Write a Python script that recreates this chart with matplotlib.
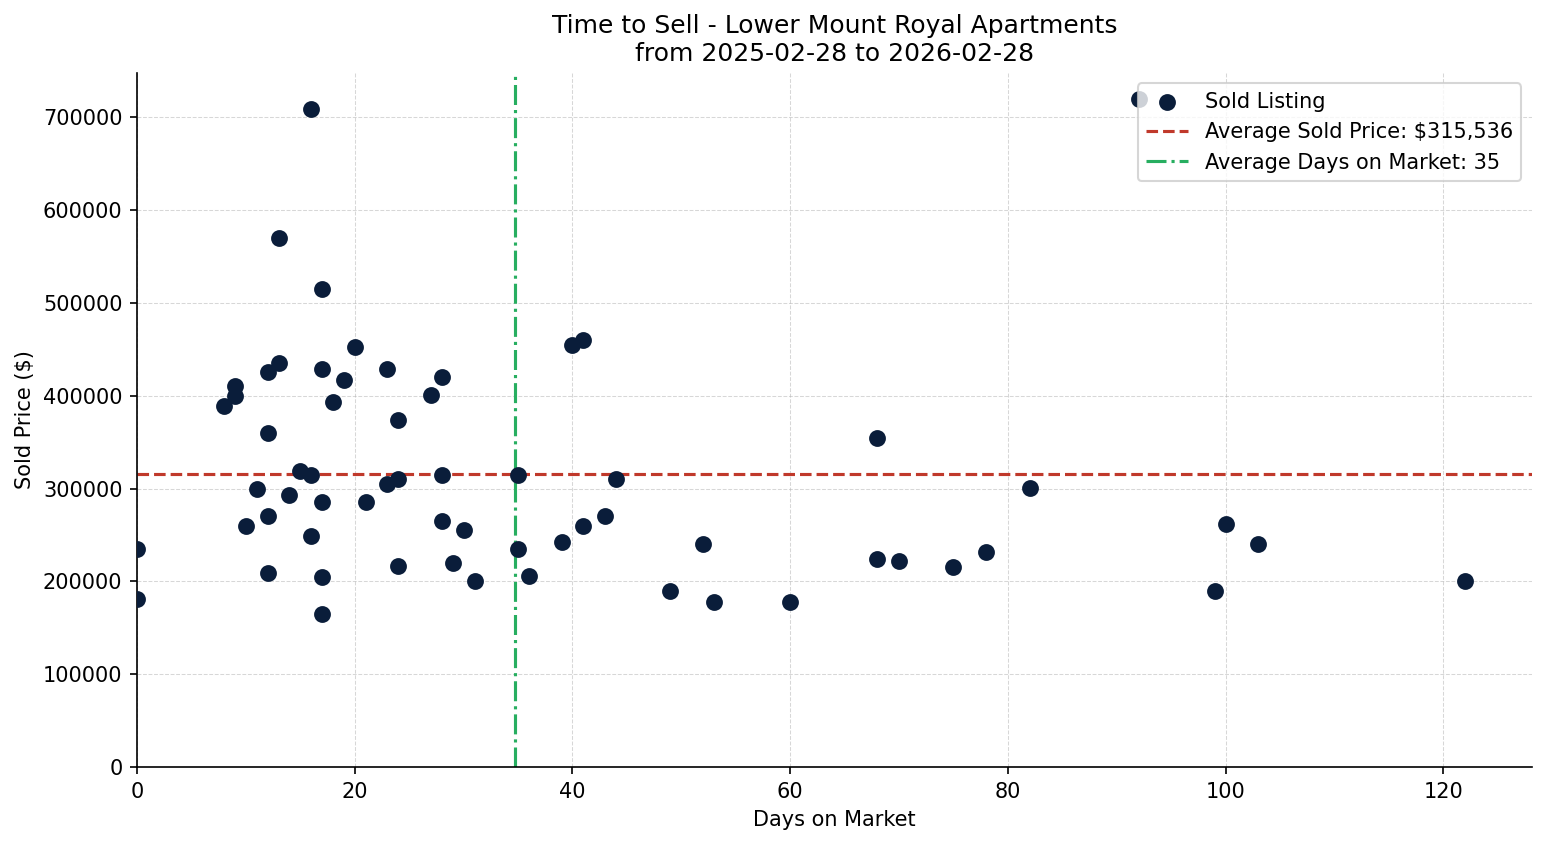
import matplotlib
matplotlib.use("Agg")
import matplotlib.pyplot as plt
import numpy as np

# days on market and sold price
days = [0, 0, 16, 13, 17, 20, 8, 9, 9, 12, 13, 17, 19, 18, 23, 28, 27, 24,
        12, 15, 16, 11, 14, 17, 21, 23, 24, 28, 12, 10, 16, 28, 30, 12, 17,
        24, 29, 31, 17,
        35, 35, 36, 40, 41, 39, 41, 43, 44, 49, 52, 53, 60,
        68, 68, 70, 75, 78, 82, 92, 99, 100, 103, 122]
prices = [235000, 181000, 709000, 570000, 515000, 452000, 389000, 400000,
          410000, 426000, 435000, 429000, 417000, 393000, 429000, 420000,
          401000, 374000, 360000, 319000, 315000, 299000, 293000, 285000,
          285000, 305000, 310000, 315000, 270000, 260000, 249000, 265000,
          255000, 209000, 205000, 217000, 220000, 200000, 165000,
          315000, 235000, 206000, 455000, 460000, 242000, 260000, 270000,
          310000, 190000, 240000, 178000, 178000,
          355000, 224000, 222000, 215000, 232000, 301000, 720000, 190000,
          262000, 240000, 200000]

avg_price = 315536
avg_days = 34.7

fig, ax = plt.subplots(figsize=(1547 / 150, 845 / 150), dpi=150)
fig.subplots_adjust(left=0.0886, right=0.990, top=0.9136, bottom=0.0923)

ax.scatter(days, prices, s=50, color="#0a1d3a", zorder=3, label="Sold Listing")
ax.axhline(avg_price, color="#c0392b", linestyle="--", linewidth=1.5,
           label=f"Average Sold Price: ${avg_price:,.0f}")
ax.axvline(avg_days, color="#27ae60", linestyle="-.", linewidth=1.5,
           label=f"Average Days on Market: {avg_days:.0f}")

ax.set_xlim(left=0)
ax.set_ylim(bottom=0)
ax.grid(True, linestyle="--", linewidth=0.5, alpha=0.5)
ax.spines["top"].set_visible(False)
ax.spines["right"].set_visible(False)

ax.set_title("Time to Sell - Lower Mount Royal Apartments\nfrom 2025-02-28 to 2026-02-28",
             fontsize=12)
ax.set_xlabel("Days on Market")
ax.set_ylabel("Sold Price ($)")
ax.legend(loc="upper right")

fig.savefig("out.png", dpi=150)
